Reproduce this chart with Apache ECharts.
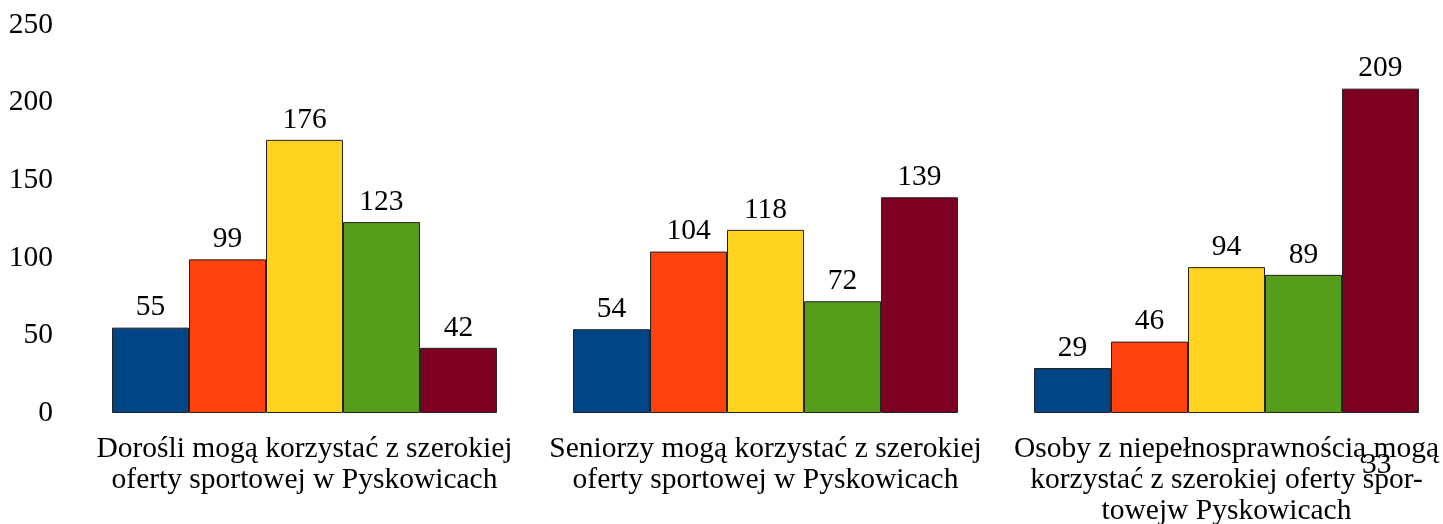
<!DOCTYPE html>
<html><head><meta charset="utf-8">
<script src="https://cdn.jsdelivr.net/npm/echarts@6/dist/echarts.min.js"></script>
<style>html,body{margin:0;padding:0;background:#fff}#c{width:1443px;height:524px}</style>
</head><body><div id="c"></div>
<script>
const categories = [
  "Dorośli mogą korzystać z szerokiej\noferty sportowej w Pyskowicach",
  "Seniorzy mogą korzystać z szerokiej\noferty sportowej w Pyskowicach",
  "Osoby z niepełnosprawnością mogą\nkorzystać z szerokiej oferty spor-\ntowejw Pyskowicach"
];
const seriesNames = ["Seria 1", "Seria 2", "Seria 3", "Seria 4", "Seria 5"];
const s1 = [55, 54, 29];
const s2 = [99, 104, 46];
const s3 = [176, 118, 94];
const s4 = [123, 72, 89];
const s5 = [42, 139, 209];
const colors = ["#004586", "#ff420e", "#ffd320", "#579d1c", "#7e0021"];
const yTicks = [0, 50, 100, 150, 200, 250];
const strayLabel = "33";

const font = "'Liberation Serif', 'Times New Roman', serif";
const chart = echarts.init(document.getElementById('c'));
const all = [s1, s2, s3, s4, s5];
chart.setOption({
  animation: false,
  grid: { left: 74, width: 1383, top: 25, height: 388, containLabel: false, outerBoundsMode: 'none' },
  xAxis: {
    type: 'category', data: categories,
    axisLine: { show: false }, axisTick: { show: false },
    axisLabel: { interval: 0, color: '#000', fontFamily: font, fontSize: 29.5, lineHeight: 31, margin: 21 }
  },
  yAxis: {
    type: 'value', min: yTicks[0], max: yTicks[yTicks.length - 1], interval: 50,
    axisLine: { show: false }, axisTick: { show: false }, splitLine: { show: false },
    axisLabel: { color: '#000', fontFamily: font, fontSize: 29.5, margin: 21 }
  },
  series: all.map((d, i) => ({
    name: seriesNames[i], type: 'bar', data: d,
    barGap: '0%', barCategoryGap: '16.5%',
    itemStyle: { color: colors[i], borderColor: '#222', borderWidth: 1 },
    label: { show: true, position: 'top', distance: 5, color: '#000', fontFamily: font, fontSize: 29.5 }
  })),
  graphic: [{
    type: 'text', left: 1362, top: 450,
    style: { text: strayLabel, fill: '#000', font: "29.5px " + font }
  }]
});
</script></body></html>
